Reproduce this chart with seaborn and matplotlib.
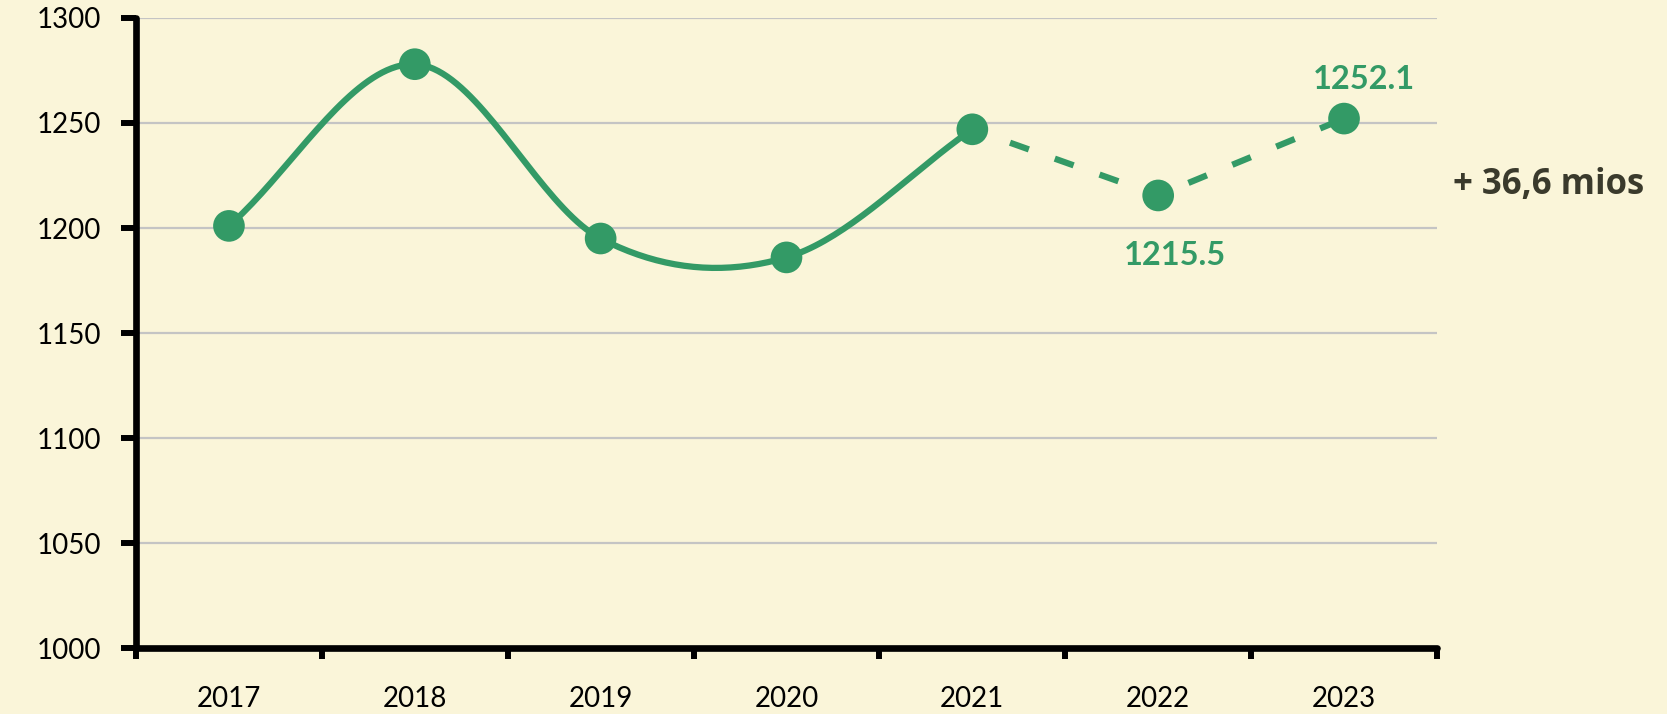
import numpy as np
import pandas as pd
import seaborn as sns
import matplotlib.pyplot as plt

# ---- data ----
years = ["2017", "2018", "2019", "2020", "2021", "2022", "2023"]
actual_years = ["2017", "2018", "2019", "2020", "2021"]
actual_values = [1201.0, 1278.0, 1195.0, 1186.0, 1247.0]
forecast_years = ["2021", "2022", "2023"]
forecast_values = [1247.0, 1215.5, 1252.1]
forecast_labels = ["", "1215.5", "1252.1"]
yticks = [1000, 1050, 1100, 1150, 1200, 1250, 1300]
note_text = "+ 36,6 mios"

GREEN = "#339A66"
BG = "#FAF5D9"

sns.set_style("white")
plt.rcParams['font.family'] = ['Lato', 'DejaVu Sans']

fig = plt.figure(figsize=(16.67, 7.14), dpi=100, facecolor=BG)
ax = fig.add_axes([0.0816, 0.0924, 0.862 - 0.0816, 0.9748 - 0.0924])
ax.set_facecolor(BG)

pos = {y: i for i, y in enumerate(years)}
xa = np.array([pos[y] for y in actual_years], dtype=float)
ya = np.array(actual_values)


def catmull_rom(x, y, n=40):
    """Render a smooth curve through the given points (drawing only)."""
    m = np.zeros_like(y)
    m[1:-1] = (y[2:] - y[:-2]) / (x[2:] - x[:-2])
    m[0] = (y[1] - y[0]) / (x[1] - x[0])
    m[-1] = (y[-1] - y[-2]) / (x[-1] - x[-2])
    xs, ys = [], []
    for i in range(len(x) - 1):
        t = np.linspace(0, 1, n, endpoint=(i == len(x) - 2))
        h = x[i + 1] - x[i]
        h00 = 2 * t**3 - 3 * t**2 + 1
        h10 = t**3 - 2 * t**2 + t
        h01 = -2 * t**3 + 3 * t**2
        h11 = t**3 - t**2
        xs.append(x[i] + t * h)
        ys.append(h00 * y[i] + h10 * h * m[i] + h01 * y[i + 1] + h11 * h * m[i + 1])
    return np.concatenate(xs), np.concatenate(ys)


cx, cy = catmull_rom(xa, ya)
curve = pd.DataFrame({"x": cx, "y": cy})
sns.lineplot(data=curve, x="x", y="y", ax=ax, color=GREEN, lw=4.5,
             sort=False, estimator=None, solid_capstyle="round", zorder=3)

fdf = pd.DataFrame({"x": [pos[y] for y in forecast_years], "y": forecast_values})
ax.plot(fdf["x"], fdf["y"], color=GREEN, lw=4.5, ls=(1.2, (3.2, 4.4)),
        dash_capstyle="butt", zorder=3)

pts = pd.DataFrame({
    "x": [pos[y] for y in actual_years] + [pos[y] for y in forecast_years[1:]],
    "y": actual_values + forecast_values[1:],
})
sns.scatterplot(data=pts, x="x", y="y", ax=ax, color=GREEN, s=520,
                edgecolor="none", zorder=4, clip_on=False)

# value labels
offsets = {"1252.1": (14, 28), "1215.5": (12, -43)}
for yr, v, lab in zip(forecast_years, forecast_values, forecast_labels):
    if lab:
        ax.annotate(lab, (pos[yr], v), xytext=offsets[lab], textcoords="offset points",
                    ha="center", va="center", color=GREEN, fontsize=23.5,
                    fontweight="bold", zorder=5)

fig.text(0.8716, 0.741, note_text, ha="left", va="center", fontsize=25,
         fontweight="bold", color="#3a3a2c", family=['Open Sans', 'DejaVu Sans'])

# axes styling
ax.set_xlim(-0.5, len(years) - 0.5)
ax.set_ylim(1000, 1300)
ax.set_yticks(yticks)
ax.set_yticklabels([str(t) for t in yticks], fontsize=20, color="black")
ax.set_xticks(range(len(years)))
ax.set_xticklabels(years, fontsize=20, color="black")
ax.set_xticks(np.arange(-0.5, len(years)), minor=True)
ax.tick_params(axis="x", which="major", length=0, pad=27, bottom=True)
ax.tick_params(axis="x", which="minor", length=8, width=4.3, color="black",
               direction="out", bottom=True)
ax.tick_params(axis="y", which="major", length=11, width=4.3, color="black",
               pad=14, left=True)
for t in ax.yaxis.get_ticklines() + ax.xaxis.get_minorticklines():
    t.set_solid_capstyle("round")

ax.set_xlabel("")
ax.set_ylabel("")
ax.yaxis.grid(True, color="#c4c4c4", lw=1.6)
ax.xaxis.grid(False)
ax.set_axisbelow(True)
for s in ["top", "right"]:
    ax.spines[s].set_visible(False)
for s in ["left", "bottom"]:
    ax.spines[s].set_linewidth(4.8)
    ax.spines[s].set_color("black")
    ax.spines[s].set_capstyle("round")
    ax.spines[s].set_zorder(6)

fig.savefig("out.png", dpi=100, facecolor=BG)
